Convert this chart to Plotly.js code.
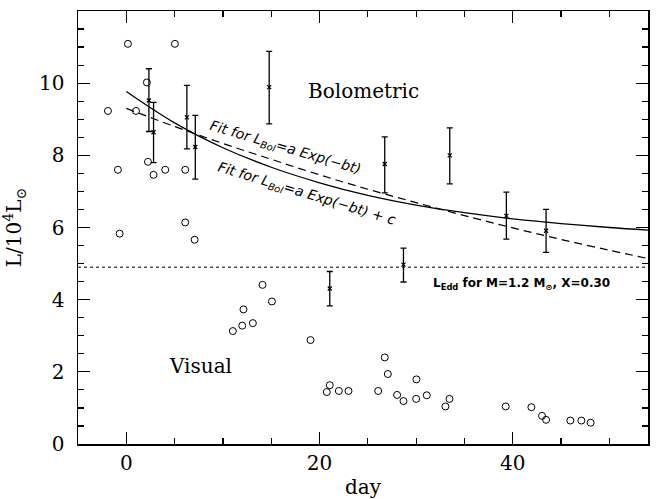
<!DOCTYPE html>
<html>
<head>
<meta charset="utf-8">
<script src="https://cdn.plot.ly/plotly-3.0.1.min.js"></script>
<style>html,body{margin:0;padding:0;background:#fff;}#chart{width:657px;height:499px;}</style>
</head>
<body>
<div id="chart"></div>
<script>
// Visual light curve (open circles)
const visDay = [0.17, 5.03, 2.13, -1.9, 1.0, -0.87, 2.24, 2.82, 4.03, 6.1, 6.1, -0.69, 7.07,
  11.03, 12.0, 12.13, 13.1, 14.1, 15.07, 19.07, 20.75, 21.06, 22.0, 23.0, 26.07, 26.75, 27.07,
  28.03, 28.69, 30.03, 30.0, 31.1, 33.03, 33.45, 39.27, 41.93, 43.03, 43.45, 45.96, 47.1, 48.06];
const visL = [11.09, 11.09, 10.02, 9.23, 9.23, 7.60, 7.82, 7.46, 7.60, 7.60, 6.14, 5.83, 5.66,
  3.13, 3.28, 3.73, 3.35, 4.41, 3.95, 2.88, 1.44, 1.63, 1.47, 1.47, 1.47, 2.40, 1.94,
  1.36, 1.19, 1.79, 1.25, 1.35, 1.04, 1.25, 1.04, 1.02, 0.78, 0.67, 0.65, 0.65, 0.59];

// Bolometric points with error bars
const bolDay = [2.34, 2.82, 6.27, 7.14, 14.79, 21.06, 26.75, 28.69, 33.48, 39.34, 43.45];
const bolL   = [9.52, 8.64, 9.05, 8.23, 9.89, 4.31, 7.76, 4.97, 8.00, 6.32, 5.91];
const bolHi  = [10.40, 9.47, 9.94, 9.11, 10.88, 4.78, 8.51, 5.43, 8.76, 6.98, 6.50];
const bolLo  = [8.66, 7.80, 8.18, 7.34, 8.87, 3.83, 6.96, 4.49, 7.21, 5.68, 5.31];

// Fit curves
const fitDay   = [0, 5, 10, 15, 20, 25, 30, 35, 40, 45, 50, 54];
const fitExpC  = [9.77, 8.90, 8.21, 7.67, 7.24, 6.89, 6.62, 6.41, 6.24, 6.11, 6.00, 5.93];
const fitExp   = [9.30, 8.80, 8.33, 7.89, 7.46, 7.06, 6.69, 6.33, 5.99, 5.67, 5.37, 5.14];

// Eddington luminosity level
const eddDay = [-5, 54];
const eddL = [4.9, 4.9];

const serif = 'DejaVu Serif, Liberation Serif, serif';

const traces = [
  {x: eddDay, y: eddL, mode: 'lines', line: {color: '#000', width: 1, dash: 'dot'}, hoverinfo: 'skip'},
  {x: fitDay, y: fitExpC, mode: 'lines', line: {color: '#000', width: 1.3, shape: 'spline'}},
  {x: fitDay, y: fitExp, mode: 'lines', line: {color: '#000', width: 1.2, dash: '8px,5px', shape: 'spline'}},
  {x: visDay, y: visL, mode: 'markers',
   marker: {symbol: 'circle-open', size: 7, color: '#000', line: {width: 1, color: '#000'}}},
  {x: bolDay, y: bolL, mode: 'markers',
   marker: {symbol: 'x-thin-open', size: 4, color: '#000', line: {width: 1.2, color: '#000'}},
   error_y: {type: 'data', symmetric: false,
     array: bolHi.map((v, i) => v - bolL[i]),
     arrayminus: bolL.map((v, i) => v - bolLo[i]),
     color: '#000', thickness: 1.3, width: 3}}
];

const layout = {
  width: 657, height: 499,
  margin: {l: 78, r: 9, t: 11, b: 55},
  showlegend: false,
  paper_bgcolor: '#fff', plot_bgcolor: '#fff',
  font: {family: serif, color: '#000', size: 20},
  xaxis: {
    range: [-5, 54], dtick: 20, tick0: 0,
    ticks: 'inside', ticklen: 12, tickwidth: 1.2, tickcolor: '#000',
    minor: {dtick: 5, ticks: 'inside', ticklen: 6, tickwidth: 1.2, tickcolor: '#000'},
    showline: true, linecolor: '#000', linewidth: 1.5, mirror: 'ticks',
    showgrid: false, zeroline: false,
    tickfont: {family: serif, size: 20},
    title: {text: 'day', font: {family: serif, size: 20}, standoff: 12}
  },
  yaxis: {
    range: [0, 12], dtick: 2, tick0: 0,
    ticks: 'inside', ticklen: 12, tickwidth: 1.2, tickcolor: '#000',
    minor: {dtick: 0.5, ticks: 'inside', ticklen: 6, tickwidth: 1.2, tickcolor: '#000'},
    showline: true, linecolor: '#000', linewidth: 1.5, mirror: 'ticks',
    showgrid: false, zeroline: false,
    ticklabelstandoff: 8,
    tickfont: {family: serif, size: 20},
    title: {text: 'L/10<sup>4</sup>L<sub>⊙</sub>', font: {family: serif, size: 20}, standoff: 14}
  },
  annotations: [
    {x: 24.5, y: 9.77, xref: 'x', yref: 'y', text: 'Bolometric', showarrow: false,
     font: {family: serif, size: 20}},
    {x: 7.63, y: 2.15, xref: 'x', yref: 'y', text: 'Visual', showarrow: false,
     font: {family: serif, size: 20}},
    {x: 16.45, y: 8.2, xref: 'x', yref: 'y', text: '<i>Fit for L<sub>Bol</sub>=a Exp(−bt)</i>',
     showarrow: false, textangle: 16.5, font: {family: 'DejaVu Sans, sans-serif', size: 14}},
    {x: 18.6, y: 6.92, xref: 'x', yref: 'y', text: '<i>Fit for L<sub>Bol</sub>=a Exp(−bt) + c</i>',
     showarrow: false, textangle: 17, font: {family: 'DejaVu Sans, sans-serif', size: 14}},
    {x: 40.9, y: 4.43, xref: 'x', yref: 'y', text: '<b>L<sub>Edd</sub> for M=1.2 M<sub>⊙</sub>, X=0.30</b>',
     showarrow: false, font: {family: 'DejaVu Sans, sans-serif', size: 12}}
  ]
};

Plotly.newPlot('chart', traces, layout, {displayModeBar: false, staticPlot: true});
</script>
</body>
</html>
